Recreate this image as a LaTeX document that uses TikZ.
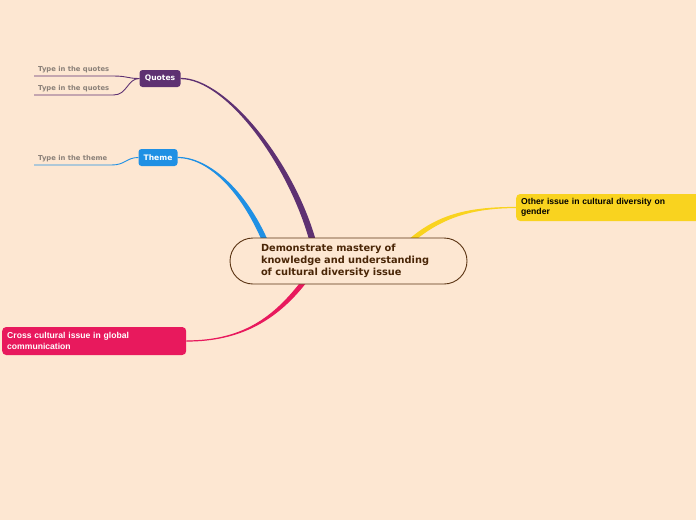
\documentclass[tikz,border=0pt]{standalone}
\usepackage{fontspec}
\newfontfamily\verd{DejaVu Sans}
\newfontfamily\arial{Liberation Sans}
\usetikzlibrary{positioning,calc}
\definecolor{peach}{HTML}{FDE7D2}
\definecolor{brownline}{HTML}{5A3312}
\definecolor{browntext}{HTML}{4A2607}
\definecolor{quotescol}{HTML}{5E3172}
\definecolor{themecol}{HTML}{1F90E4}
\definecolor{gendercol}{HTML}{F9D31F}
\definecolor{crosscol}{HTML}{E8195D}
\definecolor{subtext}{HTML}{8A8078}
\pgfdeclarelayer{back}
\pgfdeclarelayer{edges}
\pgfsetlayers{back,edges,main}
\begin{document}
\begin{tikzpicture}[x=1pt, y=-1pt,
    topic/.style={rounded corners=3pt, text=white, inner sep=0pt,
        font=\verd\bfseries\fontsize{7.6}{9}\selectfont, minimum height=17pt},
    mainbox/.style={rounded corners=4pt, inner sep=0pt, inner xsep=5pt, anchor=west,
        align=left, font=\arial\bfseries\fontsize{8.6}{10.4}\selectfont},
    subtopic/.style={anchor=south west, inner xsep=4pt, inner ysep=2.5pt,
        text=subtext, font=\verd\bfseries\fontsize{6.8}{8}\selectfont}]

        % ---- background ----
        \begin{pgfonlayer}{back}
            \fill[peach] (0,0) rectangle (696,520);
        \end{pgfonlayer}
        \useasboundingbox (0,0) rectangle (696,520);

        % ---- central topic ----
        \node[draw=brownline, fill=peach, line width=0.9pt, rounded corners=23pt,
              minimum width=237pt, minimum height=46pt, text width=175pt, align=left,
              text=browntext, font=\verd\bfseries\fontsize{9.8}{12}\selectfont]
            (centre) at (348.5,261)
            {Demonstrate mastery of\\knowledge and understanding\\of cultural diversity issue};

        % ---- main topics ----
        \node[topic, fill=quotescol, minimum width=41pt] (quotes) at (160,78.5) {Quotes};
        \node[topic, fill=themecol, minimum width=39pt] (theme) at (158,157.5) {Theme};
        \node[mainbox, fill=gendercol, text=black, minimum width=190pt, minimum height=27pt,
              text width=180pt] (gender) at (516,207.5)
            {Other issue in cultural diversity on\\gender};
        \node[mainbox, fill=crosscol, text=white, minimum width=184pt, minimum height=28pt,
              text width=174pt] (cross) at (2,341)
            {Cross cultural issue in global\\communication};

        % ---- subtopics ----
        \node[subtopic] (quote1) at (34,76) {Type in the quotes};
        \node[subtopic] (quote2) at (34,95) {Type in the quotes};
        \node[subtopic] (theme1) at (34,165) {Type in the theme};

        % ---- ends of the branches (hidden under the central topic) ----
        \coordinate (qend) at (313,242);
        \coordinate (tend) at (268,248);
        \coordinate (cend) at (306,279);
        \coordinate (gend) at (405,246);

        \begin{pgfonlayer}{edges}
            % tapered branches, thin at the topic, thick at the centre
            \filldraw[quotescol, line width=1.3pt]
                (quotes.east) .. controls +(45,0) and +(-22,-80) .. ([xshift=-2.6pt]qend)
                -- ([xshift=2.6pt]qend) .. controls +(-22,-80) and +(45,0) .. (quotes.east);
            \filldraw[themecol, line width=1.2pt]
                (theme.east) .. controls +(32,0) and +(-22,-55) .. ([xshift=-2.4pt]tend)
                -- ([xshift=2.4pt]tend) .. controls +(-22,-55) and +(32,0) .. (theme.east);
            \filldraw[crosscol, line width=1.2pt]
                (cross.east) .. controls +(55,0) and +(-30,40) .. ([xshift=-2.4pt]cend)
                -- ([xshift=2.4pt]cend) .. controls +(-30,40) and +(55,0) .. (cross.east);
            \filldraw[gendercol, line width=1.2pt]
                (gender.west) .. controls +(-50,0) and +(30,-28) .. ([yshift=-2.4pt]gend)
                -- ([yshift=2.4pt]gend) .. controls +(30,-28) and +(-50,0) .. (gender.west);

            % subtopic underlines
            \draw[quotescol, line width=0.9pt]
                (quote1.south west) -- (quote1.south east)
                .. controls +(14,0) and +(-12,0) .. (quotes.west);
            \draw[quotescol, line width=0.9pt]
                (quote2.south west) -- (quote2.south east)
                .. controls +(14,0) and +(-12,0) .. (quotes.west);
            \draw[themecol, line width=0.9pt]
                (theme1.south west) -- (theme1.south east)
                .. controls +(14,0) and +(-12,0) .. (theme.west);
        \end{pgfonlayer}
    \end{tikzpicture}
\end{document}
